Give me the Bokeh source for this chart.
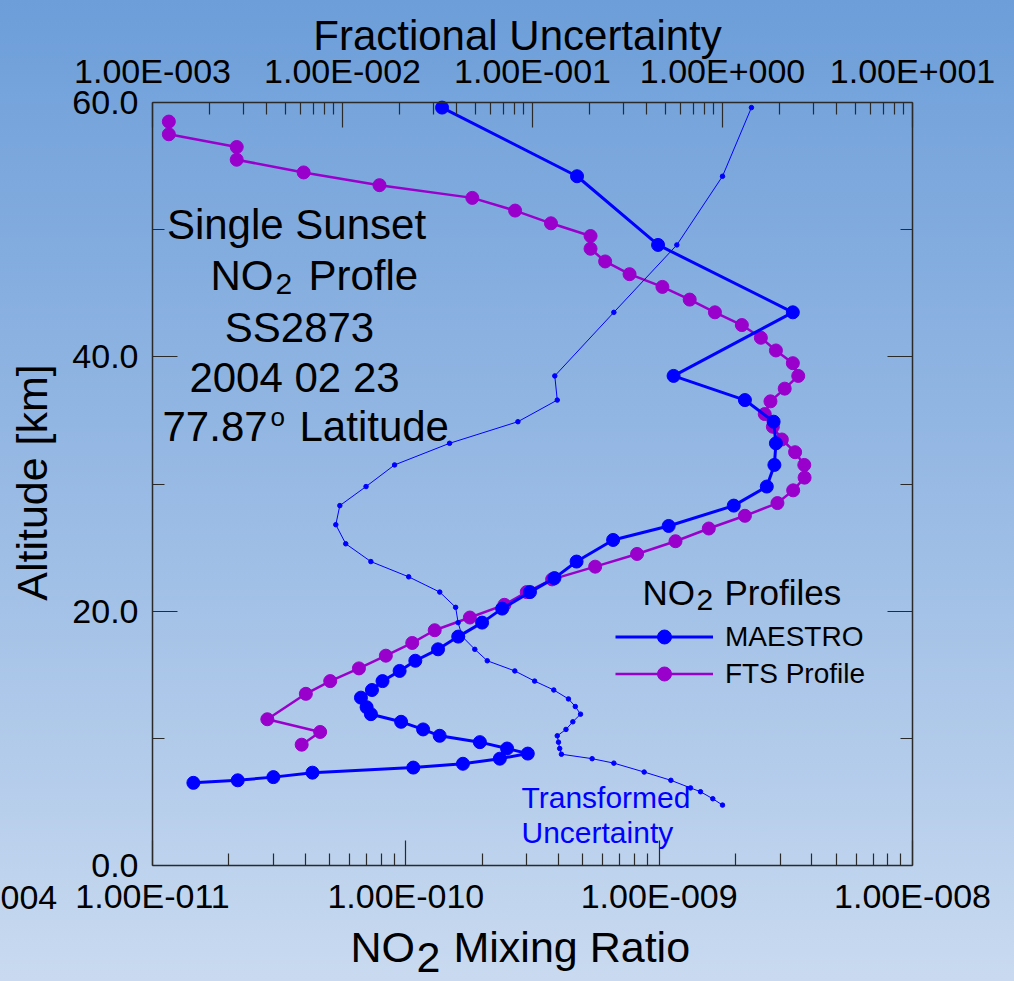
import math
from bokeh.plotting import figure
from bokeh.models import (Range1d, LogScale, LogAxis, LinearAxis, FixedTicker,
                          CustomJSTickFormatter, PrintfTickFormatter, Label,
                          Legend, LegendItem)
from bokeh.embed import file_html
from bokeh.resources import INLINE

# ---------------- data ----------------
maestro_alt = [59.6, 54.2, 48.8, 43.5, 38.5, 36.6, 34.9, 33.2, 31.5, 29.8, 28.3, 26.7,
               25.6, 23.9, 22.6, 21.5, 20.2, 19.1, 18.0, 17.0, 16.1, 15.3, 14.5, 13.8,
               13.2, 12.45, 11.9, 11.3, 10.7, 10.2, 9.7, 9.2, 8.8, 8.4, 8.0, 7.7, 7.3,
               6.95, 6.7, 6.5]
maestro_no2 = [1.39e-10, 4.74e-10, 9.9e-10, 3.37e-9, 1.14e-9, 2.18e-9, 2.83e-9, 2.89e-9,
               2.85e-9, 2.66e-9, 1.97e-9, 1.09e-9, 6.58e-10, 4.72e-10, 3.86e-10, 3.09e-10,
               2.40e-10, 2.00e-10, 1.61e-10, 1.34e-10, 1.09e-10, 9.45e-11, 8.09e-11,
               7.35e-11, 6.65e-11, 7.0e-11, 7.28e-11, 9.58e-11, 1.17e-10, 1.36e-10,
               1.96e-10, 2.51e-10, 3.03e-10, 2.35e-10, 1.68e-10, 1.07e-10, 4.28e-11,
               3.0e-11, 2.17e-11, 1.45e-11]

fts_alt = [58.5, 57.5, 56.5, 55.5, 54.5, 53.5, 52.5, 51.5, 50.5, 49.5, 48.5, 47.5, 46.5,
           45.5, 44.5, 43.5, 42.5, 41.5, 40.5, 39.5, 38.5, 37.5, 36.5, 35.5, 34.5, 33.5,
           32.5, 31.5, 30.5, 29.5, 28.5, 27.5, 26.5, 25.5, 24.5, 23.5, 22.5, 21.5, 20.5,
           19.5, 18.5, 17.5, 16.5, 15.5, 14.5, 13.5, 11.5, 10.5, 9.5]
fts_no2 = [1.16e-11, 1.16e-11, 2.15e-11, 2.15e-11, 3.95e-11, 7.87e-11, 1.83e-10, 2.70e-10,
           3.74e-10, 5.36e-10, 5.36e-10, 6.12e-10, 7.64e-10, 1.03e-9, 1.32e-9, 1.66e-9,
           2.12e-9, 2.52e-9, 2.89e-9, 3.37e-9, 3.54e-9, 3.13e-9, 2.75e-9, 2.61e-9, 2.81e-9,
           3.05e-9, 3.44e-9, 3.74e-9, 3.75e-9, 3.38e-9, 2.93e-9, 2.18e-9, 1.57e-9, 1.16e-9,
           8.18e-10, 5.59e-10, 3.78e-10, 3.0e-10, 2.45e-10, 1.79e-10, 1.30e-10, 1.06e-10,
           8.34e-11, 6.53e-11, 5.03e-11, 4.03e-11, 2.84e-11, 4.59e-11, 3.88e-11]

unc_alt = [59.6, 54.2, 48.8, 43.5, 38.5, 36.6, 34.9, 33.2, 31.5, 29.8, 28.3, 26.8, 25.3,
           23.9, 22.7, 21.5, 20.3, 19.1, 18.0, 17.0, 16.1, 15.3, 14.5, 13.8, 13.1, 12.5,
           11.9, 11.3, 10.7, 10.2, 9.7, 9.2, 8.75, 8.4, 8.05, 7.35, 6.7, 6.1, 5.8, 5.25, 4.75]
unc_frac = [1.42, 1.0, 0.575, 0.268, 0.131, 0.135, 0.0838, 0.0366, 0.0188, 0.0133, 0.00968,
            0.00922, 0.0104, 0.0141, 0.0223, 0.0325, 0.0394, 0.0406, 0.0427, 0.0497, 0.0578,
            0.0807, 0.1026, 0.1294, 0.1546, 0.168, 0.179, 0.163, 0.150, 0.135, 0.137, 0.139,
            0.142, 0.206, 0.268, 0.387, 0.535, 0.679, 0.766, 0.889, 1.0]

x_lo, x_hi = 1e-11, 1e-8          # NO2 mixing ratio axis
top_lo, top_hi = 1e-3, 1e1        # fractional uncertainty axis
y_lo, y_hi = 0, 60                # altitude axis
x_major = [1e-11, 1e-10, 1e-9, 1e-8]
top_major = [1e-3, 1e-2, 1e-1, 1e0, 1e1]
y_major = [0, 20, 40, 60]
y_minor = [10, 30, 50]

x_minor = [m * 10.0 ** e for e in range(-11, -8) for m in range(2, 10)]
top_minor = [m * 10.0 ** e for e in range(-3, 1) for m in range(2, 10)]

FONT = "Liberation Sans"
BLUE = "#0000ff"
PURPLE = "#9900cc"
AX = "#2a2a2a"

# ---------------- layout (pixels) ----------------
W, H = 1014, 981
FL, FR, FT, FB = 152, 912, 102, 865   # plot box
dec_b = (FR - FL) / math.log10(x_hi / x_lo)
dec_t = (FR - FL) / math.log10(top_hi / top_lo)
ppu = (FB - FT) / (y_hi - y_lo)

xr = Range1d(10 ** (math.log10(x_lo) - FL / dec_b), 10 ** (math.log10(x_lo) + (W - FL) / dec_b))
tr = Range1d(10 ** (math.log10(top_lo) - FL / dec_t), 10 ** (math.log10(top_lo) + (W - FL) / dec_t))
yr_ = Range1d(y_lo - (H - FB) / ppu, y_hi + FT / ppu)

p = figure(x_axis_type=None, y_axis_type=None, x_range=xr, y_range=yr_,
           frame_width=W, frame_height=H, min_border=0,
           output_backend="svg", toolbar_location=None,
           background_fill_color=None, border_fill_color=None,
           outline_line_color=None)
p.x_scale = LogScale()
p.styles = {"background": "linear-gradient(to bottom, #6d9ed9 0%, #98bae4 50%, #c9daf0 100%)"}
p.grid.visible = False

p.extra_x_ranges = {"unc": tr}
p.extra_x_scales = {"unc": LogScale()}

fmt_code = """
const e = Math.round(Math.log10(tick));
const s = e < 0 ? "-" : "+";
return "1.00E" + s + String(Math.abs(e)).padStart(3, "0");
"""


def style_axis(ax, standoff):
    ax.axis_line_color = AX
    ax.axis_line_width = 1.5
    ax.major_tick_line_color = AX
    ax.minor_tick_line_color = AX
    ax.major_tick_line_width = 1.2
    ax.minor_tick_line_width = 1.2
    ax.major_tick_in = 25
    ax.major_tick_out = 0
    ax.minor_tick_in = 12
    ax.minor_tick_out = 0
    ax.major_label_text_font = FONT
    ax.major_label_text_font_size = "34px"
    ax.major_label_text_color = "black"
    ax.major_label_standoff = standoff


xb = LogAxis(ticker=FixedTicker(ticks=x_major, minor_ticks=x_minor),
             formatter=CustomJSTickFormatter(code=fmt_code),
             fixed_location=y_lo, bounds=(x_lo, x_hi))
style_axis(xb, 11)
p.add_layout(xb, "below")

xt = LogAxis(x_range_name="unc", ticker=FixedTicker(ticks=top_major, minor_ticks=top_minor),
             formatter=CustomJSTickFormatter(code=fmt_code),
             fixed_location=y_hi, bounds=(top_lo, top_hi))
style_axis(xt, 13)
p.add_layout(xt, "above")

yl = LinearAxis(ticker=FixedTicker(ticks=y_major, minor_ticks=y_minor),
                formatter=PrintfTickFormatter(format="%.1f"),
                fixed_location=x_lo, bounds=(y_lo, y_hi))
style_axis(yl, 14)
p.add_layout(yl, "left")

yr = LinearAxis(ticker=FixedTicker(ticks=y_major, minor_ticks=y_minor),
                formatter=CustomJSTickFormatter(code="return '';"),
                fixed_location=x_hi, bounds=(y_lo, y_hi))
style_axis(yr, 0)
yr.major_label_text_font_size = "1px"
p.add_layout(yr, "right")

# ---------------- series ----------------
f_line = p.line(fts_no2, fts_alt, line_color=PURPLE, line_width=2.5)
f_pts = p.scatter(fts_no2, fts_alt, size=13, fill_color=PURPLE, line_color=PURPLE)
m_line = p.line(maestro_no2, maestro_alt, line_color=BLUE, line_width=3)
m_pts = p.scatter(maestro_no2, maestro_alt, size=13, fill_color=BLUE, line_color=BLUE)
p.line(unc_frac, unc_alt, line_color=BLUE, line_width=1, x_range_name="unc")
p.scatter(unc_frac, unc_alt, size=4.5, fill_color=BLUE, line_color=BLUE, x_range_name="unc")

legend = Legend(items=[LegendItem(label="MAESTRO", renderers=[m_line, m_pts]),
                       LegendItem(label="FTS Profile", renderers=[f_line, f_pts])],
                location=(605, H - 609 - 92), glyph_width=98, glyph_height=35,
                label_height=35, spacing=2, padding=10, margin=0, label_standoff=12,
                label_text_font=FONT, label_text_font_size="28px", label_text_color="black",
                background_fill_alpha=0, border_line_alpha=0)
p.add_layout(legend)


# ---------------- text ----------------
def dx(px):
    return 10 ** (math.log10(x_lo) + (px - FL) / dec_b)


def dy(py):
    return y_lo + (FB - py) / ppu


BASE_SHIFT = 0.36  # empirical offset of the alphabetic baseline, in font sizes


def lab(text, px, py, size, align="left", color="black", angle=0.0):
    if angle:
        px = px - BASE_SHIFT * size
    else:
        py = py - BASE_SHIFT * size
    p.add_layout(Label(x=dx(px), y=dy(py), text=text, text_font=FONT,
                       text_font_size=f"{size}px", text_align=align,
                       text_baseline="alphabetic", text_color=color, angle=angle))


lab("Fractional Uncertainty", 517, 50, 42, "center")
lab("NO", 350, 962, 43)
lab("2", 416, 972, 43)
lab("Mixing Ratio", 453, 962, 43)
lab("Altitude [km]", 47, 482, 43, "center", angle=math.pi / 2)
lab("004", 0, 909, 34)

lab("Single Sunset", 296, 239, 42, "center")
lab("NO", 210, 290, 42)
lab("2", 275, 294, 30)
lab("Profle", 308, 290, 42)
lab("SS2873", 299, 342, 42, "center")
lab("2004 02 23", 294, 392, 42, "center")
lab("77.87", 162, 441, 42)
lab("o", 270, 426, 26)
lab("Latitude", 299, 441, 42)

lab("NO", 642, 605, 35)
lab("2", 696, 610, 30)
lab("Profiles", 724, 605, 35)

lab("Transformed", 521, 808, 30, color=BLUE)
lab("Uncertainty", 521, 843, 30, color=BLUE)

open("out.html", "w").write(file_html(p, INLINE))
